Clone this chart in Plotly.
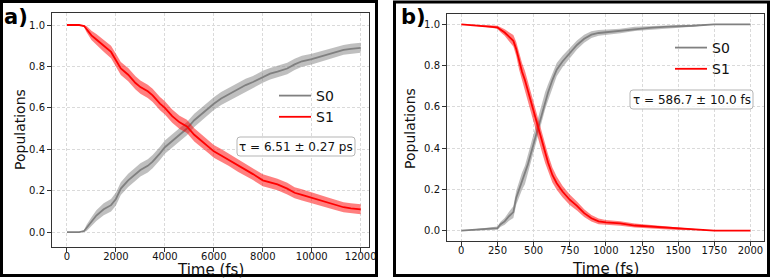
import plotly.graph_objects as go

W, H = 773, 279

# ---------------- data ----------------
time_a = [0, 500, 700, 800, 1000, 1200, 1500, 1800, 2000, 2200, 2500, 2800, 3000, 3300, 3500,
          3800, 4000, 4300, 4600, 4900, 5200, 5500, 5800, 6000, 6300, 6600, 7000, 7300, 7600,
          8000, 8300, 8600, 9000, 9300, 9600, 10000, 10300, 10600, 11000, 11300, 11600, 12000]
s1_a = [1.0, 1.0, 0.995, 0.98, 0.95, 0.93, 0.90, 0.87, 0.83, 0.79, 0.76, 0.72, 0.70, 0.68, 0.66,
        0.62, 0.60, 0.56, 0.53, 0.51, 0.47, 0.44, 0.41, 0.39, 0.37, 0.35, 0.32, 0.30, 0.28,
        0.25, 0.24, 0.23, 0.21, 0.19, 0.18, 0.165, 0.155, 0.145, 0.13, 0.12, 0.115, 0.11]
s0_a = [0.0, 0.0, 0.005, 0.02, 0.05, 0.08, 0.11, 0.13, 0.16, 0.21, 0.25, 0.28, 0.30, 0.32, 0.34,
        0.38, 0.41, 0.44, 0.47, 0.50, 0.54, 0.57, 0.60, 0.62, 0.645, 0.665, 0.69, 0.71, 0.725,
        0.75, 0.765, 0.775, 0.79, 0.81, 0.825, 0.835, 0.845, 0.855, 0.87, 0.88, 0.885, 0.89]
err_a = [0.0, 0.0, 0.005, 0.015, 0.022, 0.026, 0.029, 0.030, 0.031, 0.031, 0.032, 0.032, 0.032, 0.032, 0.032,
         0.032, 0.032, 0.032, 0.032, 0.032, 0.032, 0.032, 0.031, 0.031, 0.031, 0.030, 0.030, 0.030, 0.029,
         0.029, 0.028, 0.028, 0.028, 0.027, 0.027, 0.026, 0.026, 0.025, 0.025, 0.024, 0.024, 0.024]

time_b = [0, 100, 200, 250, 270, 300, 330, 360, 380, 400, 420, 440, 460, 480, 500, 520, 540, 560,
          580, 600, 630, 660, 700, 750, 800, 850, 900, 950, 1000, 1100, 1200, 1300, 1400, 1500,
          1600, 1750, 2000]
s1_b = [1.0, 0.995, 0.99, 0.985, 0.975, 0.96, 0.94, 0.92, 0.88, 0.82, 0.77, 0.73, 0.68, 0.63, 0.58,
        0.53, 0.47, 0.42, 0.37, 0.33, 0.27, 0.23, 0.19, 0.15, 0.12, 0.085, 0.06, 0.045, 0.04, 0.035,
        0.025, 0.02, 0.015, 0.01, 0.007, 0.0, 0.0]
s0_b = [0.0, 0.005, 0.01, 0.012, 0.03, 0.045, 0.07, 0.09, 0.16, 0.20, 0.24, 0.27, 0.32, 0.37, 0.42,
        0.48, 0.53, 0.58, 0.63, 0.67, 0.73, 0.78, 0.82, 0.86, 0.90, 0.93, 0.95, 0.958, 0.962, 0.968,
        0.978, 0.983, 0.988, 0.99, 0.993, 1.0, 1.0]
err_b = [0.0, 0.004, 0.006, 0.008, 0.012, 0.016, 0.022, 0.028, 0.034, 0.04, 0.042, 0.045, 0.045, 0.045, 0.045,
         0.045, 0.045, 0.045, 0.042, 0.04, 0.036, 0.032, 0.028, 0.025, 0.022, 0.019, 0.016, 0.014, 0.012, 0.011,
         0.01, 0.009, 0.008, 0.007, 0.005, 0.0, 0.0]

series_names = ["S0", "S1"]
tau_a = "τ = 6.51 ± 0.27 ps"
tau_b = "τ = 586.7 ± 10.0 fs"
x_ticks_a = [0, 2000, 4000, 6000, 8000, 10000, 12000]
x_ticks_b = [0, 250, 500, 750, 1000, 1250, 1500, 1750, 2000]
y_ticks = [0.0, 0.2, 0.4, 0.6, 0.8, 1.0]

GRAY = "#808080"
RED = "#ff0000"
GRAY_BAND = "rgba(128,128,128,0.5)"
RED_BAND = "rgba(255,0,0,0.5)"
FONT = "DejaVu Sans"


def px(x):
    return x / W


def py(y):
    return 1 - y / H


fig = go.Figure()


def add_series(t, v, e, name, line_color, band_color, xa, ya, legend):
    upper = [a + b for a, b in zip(v, e)]
    lower = [a - b for a, b in zip(v, e)]
    fig.add_trace(go.Scatter(x=t + t[::-1], y=upper + lower[::-1], fill="toself",
                             fillcolor=band_color, line=dict(width=0), mode="lines",
                             hoverinfo="skip", showlegend=False, xaxis=xa, yaxis=ya))
    fig.add_trace(go.Scatter(x=t, y=v, mode="lines", name=name,
                             line=dict(color=line_color, width=1.8),
                             xaxis=xa, yaxis=ya, legend=legend))


add_series(time_a, s0_a, err_a, series_names[0], GRAY, GRAY_BAND, "x", "y", "legend")
add_series(time_a, s1_a, err_a, series_names[1], RED, RED_BAND, "x", "y", "legend")
add_series(time_b, s0_b, err_b, series_names[0], GRAY, GRAY_BAND, "x2", "y2", "legend2")
add_series(time_b, s1_b, err_b, series_names[1], RED, RED_BAND, "x2", "y2", "legend2")

axis_common = dict(showline=True, linecolor="#333333", linewidth=1, mirror=True,
                   ticks="outside", ticklen=4, tickcolor="#333333", tickwidth=1,
                   showgrid=True, gridcolor="#dadada", griddash="3px,2px", gridwidth=1,
                   zeroline=False, automargin=False,
                   tickfont=dict(family=FONT, size=10, color="#111111"))

fig.update_layout(
    width=W, height=H, margin=dict(l=0, r=0, t=0, b=0, autoexpand=False),
    paper_bgcolor="white", plot_bgcolor="white",
    font=dict(family=FONT),
    xaxis=dict(domain=[px(52), px(369)], range=[-612, 12340], tickvals=x_ticks_a,
               ticktext=[str(v) for v in x_ticks_a], ticklabelstandoff=-4,
               anchor="y", **axis_common),
    yaxis=dict(domain=[py(247), py(13)], range=[-0.072, 1.058], tickvals=y_ticks,
               tickformat=".1f", anchor="x", **axis_common),
    xaxis2=dict(domain=[px(447), px(764)], range=[-99, 2094], tickvals=x_ticks_b,
                ticktext=[str(v) for v in x_ticks_b], ticklabelstandoff=-4,
                anchor="y2", **axis_common),
    yaxis2=dict(domain=[py(241), py(14)], range=[-0.05, 1.05], tickvals=y_ticks,
                tickformat=".1f", anchor="x2", **axis_common),
    legend=dict(x=px(274), y=py(80), xanchor="left", yanchor="top",
                bgcolor="rgba(0,0,0,0)", font=dict(family=FONT, size=14, color="#111111"),
                itemwidth=32, tracegroupgap=0),
    legend2=dict(x=px(670), y=py(32), xanchor="left", yanchor="top",
                 bgcolor="rgba(0,0,0,0)", font=dict(family=FONT, size=14, color="#111111"),
                 itemwidth=32, tracegroupgap=0),
    showlegend=True,
)


def rounded_box(x0, y0, x1, y1, r=3):
    # pixel coords -> paper path with rounded corners
    def P(x, y):
        return f"{px(x):.5f},{py(y):.5f}"
    return (f"M{P(x0 + r, y0)} L{P(x1 - r, y0)} Q{P(x1, y0)} {P(x1, y0 + r)} "
            f"L{P(x1, y1 - r)} Q{P(x1, y1)} {P(x1 - r, y1)} L{P(x0 + r, y1)} "
            f"Q{P(x0, y1)} {P(x0, y1 - r)} L{P(x0, y0 + r)} Q{P(x0, y0)} {P(x0 + r, y0)} Z")


shapes = [
    dict(type="rect", xref="paper", yref="paper", x0=px(1.5), x1=px(376.5), y0=py(275.5), y1=py(1.5),
         line=dict(color="black", width=3)),
    dict(type="rect", xref="paper", yref="paper", x0=px(394.5), x1=px(768.5), y0=py(275.5), y1=py(2),
         line=dict(color="black", width=3)),
    dict(type="path", xref="paper", yref="paper", path=rounded_box(237, 137, 355, 156),
         line=dict(color="#b5b5b5", width=1), fillcolor="rgba(255,255,255,0.8)"),
    dict(type="path", xref="paper", yref="paper", path=rounded_box(630, 90, 753, 109),
         line=dict(color="#b5b5b5", width=1), fillcolor="rgba(255,255,255,0.8)"),
]
fig.update_layout(shapes=shapes)

ann = []


def text(x, y, s, size, bold=False, angle=0, color="#111111"):
    ann.append(dict(xref="paper", yref="paper", x=px(x), y=py(y), text=f"<b>{s}</b>" if bold else s,
                    showarrow=False, xanchor="center", yanchor="middle", textangle=angle,
                    font=dict(family=FONT, size=size, color=color)))


text(296, 146.5, tau_a, 12)
text(691.5, 99.5, tau_b, 12)
text(16, 17, "a)", 21, bold=True, color="black")
text(413, 17, "b)", 21, bold=True, color="black")
text(210, 270, "Time (fs)", 15)
text(605, 269, "Time (fs)", 15)
text(20, 130, "Populations", 14, angle=-90)
text(410, 128, "Populations", 14, angle=-90)
fig.update_layout(annotations=ann)

fig.write_html("out.html")
